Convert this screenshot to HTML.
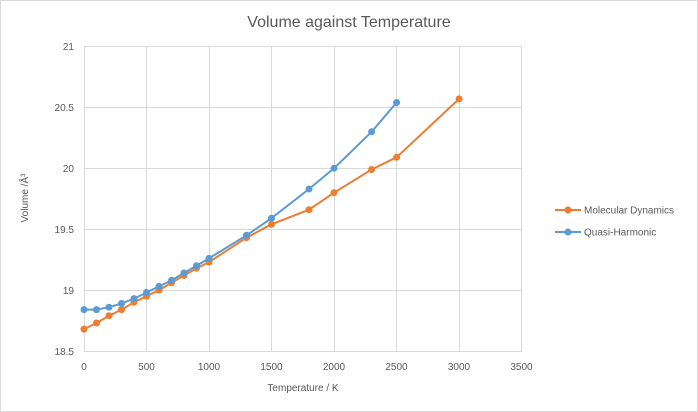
<!DOCTYPE html>
<html><head><style>body{margin:0;background:#fff}svg{display:block;font-family:"Liberation Sans",sans-serif}</style></head><body>
<svg width="698" height="412" viewBox="0 0 698 412">
<rect x="0.5" y="0.5" width="697" height="411" fill="#fff" stroke="#d9d9d9"/>
<text x="349" y="27" text-anchor="middle" font-size="16" fill="#595959">Volume against Temperature</text>
<g stroke="#d9d9d9" stroke-width="1">
<line x1="84" y1="46.5" x2="522" y2="46.5"/><line x1="84" y1="107.5" x2="522" y2="107.5"/><line x1="84" y1="168.5" x2="522" y2="168.5"/><line x1="84" y1="229.5" x2="522" y2="229.5"/><line x1="84" y1="290.5" x2="522" y2="290.5"/>
<line x1="146.5" y1="46" x2="146.5" y2="351"/><line x1="209.5" y1="46" x2="209.5" y2="351"/><line x1="271.5" y1="46" x2="271.5" y2="351"/><line x1="334.5" y1="46" x2="334.5" y2="351"/><line x1="396.5" y1="46" x2="396.5" y2="351"/><line x1="459.5" y1="46" x2="459.5" y2="351"/><line x1="521.5" y1="46" x2="521.5" y2="351"/>
<line x1="84.5" y1="46" x2="84.5" y2="351"/><line x1="84" y1="351.5" x2="522" y2="351.5"/>
</g>
<g font-size="10" fill="#595959" text-anchor="end">
<text x="74" y="50">21</text><text x="74" y="111">20.5</text><text x="74" y="172">20</text><text x="74" y="233">19.5</text><text x="74" y="294">19</text><text x="74" y="355">18.5</text>
</g>
<g font-size="10" fill="#595959" text-anchor="middle">
<text x="84" y="370">0</text><text x="146.5" y="370">500</text><text x="209" y="370">1000</text><text x="271.5" y="370">1500</text><text x="334" y="370">2000</text><text x="396.5" y="370">2500</text><text x="459" y="370">3000</text><text x="521.5" y="370">3500</text>
<text x="303" y="391">Temperature / K</text>
<text transform="translate(28,198) rotate(-90)">Volume /Å³</text>
</g>
<polyline fill="none" stroke="#ed7d31" stroke-width="2" points="84,329.1 96.5,323 109,315.7 121.5,309.6 134,302.3 146.5,296.2 159,290.1 171.5,282.8 184,275.5 196.5,268.2 209,262.1 246.5,237.7 271.5,224.3 309,209.7 334,192.7 371.6,169.5 396.6,157.3 459.1,98.9"/>
<g fill="#ed7d31"><circle cx="84" cy="329.1" r="3.5"/><circle cx="96.5" cy="323" r="3.5"/><circle cx="109" cy="315.7" r="3.5"/><circle cx="121.5" cy="309.6" r="3.5"/><circle cx="134" cy="302.3" r="3.5"/><circle cx="146.5" cy="296.2" r="3.5"/><circle cx="159" cy="290.1" r="3.5"/><circle cx="171.5" cy="282.8" r="3.5"/><circle cx="184" cy="275.5" r="3.5"/><circle cx="196.5" cy="268.2" r="3.5"/><circle cx="209" cy="262.1" r="3.5"/><circle cx="246.5" cy="237.7" r="3.5"/><circle cx="271.5" cy="224.3" r="3.5"/><circle cx="309" cy="209.7" r="3.5"/><circle cx="334" cy="192.7" r="3.5"/><circle cx="371.6" cy="169.5" r="3.5"/><circle cx="396.6" cy="157.3" r="3.5"/><circle cx="459.1" cy="98.9" r="3.5"/></g>
<polyline fill="none" stroke="#5b9bd5" stroke-width="2" points="84,309.6 96.5,309.6 109,307.2 121.5,303.5 134,298.6 146.5,292.5 159,286.4 171.5,280.4 184,273 196.5,265.7 209,258.4 246.5,235.3 271.5,218.2 309,189 334,168.3 371.6,131.8 396.6,102.5"/>
<g fill="#5b9bd5"><circle cx="84" cy="309.6" r="3.5"/><circle cx="96.5" cy="309.6" r="3.5"/><circle cx="109" cy="307.2" r="3.5"/><circle cx="121.5" cy="303.5" r="3.5"/><circle cx="134" cy="298.6" r="3.5"/><circle cx="146.5" cy="292.5" r="3.5"/><circle cx="159" cy="286.4" r="3.5"/><circle cx="171.5" cy="280.4" r="3.5"/><circle cx="184" cy="273" r="3.5"/><circle cx="196.5" cy="265.7" r="3.5"/><circle cx="209" cy="258.4" r="3.5"/><circle cx="246.5" cy="235.3" r="3.5"/><circle cx="271.5" cy="218.2" r="3.5"/><circle cx="309" cy="189" r="3.5"/><circle cx="334" cy="168.3" r="3.5"/><circle cx="371.6" cy="131.8" r="3.5"/><circle cx="396.6" cy="102.5" r="3.5"/></g>
<line x1="555" y1="210" x2="581" y2="210" stroke="#ed7d31" stroke-width="2"/><circle cx="568" cy="210" r="3.5" fill="#ed7d31"/>
<text x="584" y="213.5" font-size="10" fill="#595959">Molecular Dynamics</text>
<line x1="555" y1="232" x2="581" y2="232" stroke="#5b9bd5" stroke-width="2"/><circle cx="568" cy="232" r="3.5" fill="#5b9bd5"/>
<text x="584" y="235.5" font-size="10" fill="#595959">Quasi-Harmonic</text>
</svg>
</body></html>
